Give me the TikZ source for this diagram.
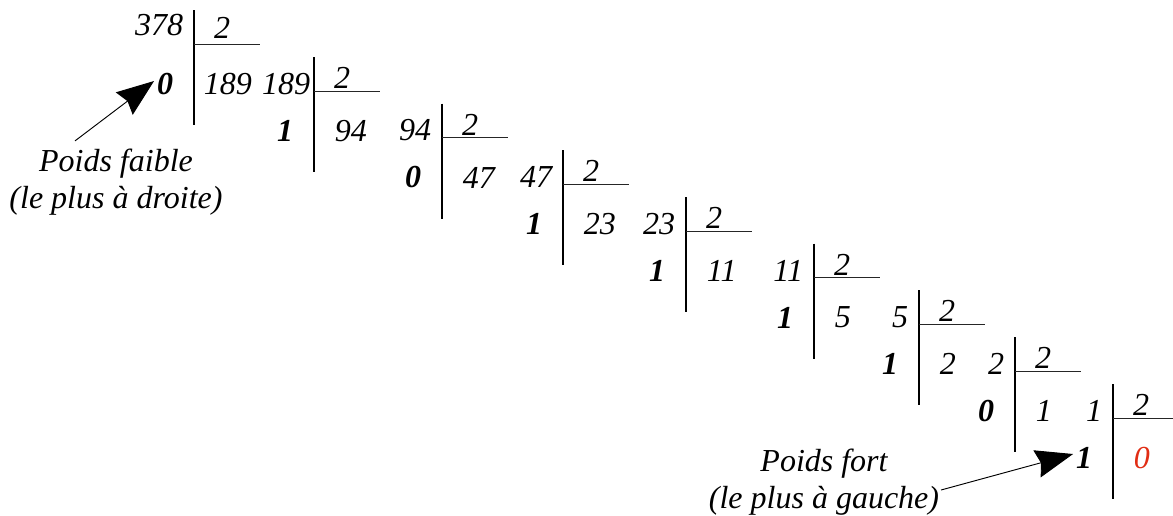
\documentclass[tikz,border=0pt]{standalone}
\usepackage{fontspec}
\setmainfont{Liberation Serif}
\usetikzlibrary{positioning,arrows.meta,calc}
\definecolor{qRed}{RGB}{225,45,20}
\tikzset{
  num/.style={font=\fontsize{24}{27.75}\selectfont\itshape, inner sep=2pt},
  bit/.style={num, font=\fontsize{24}{27.75}\selectfont\bfseries\itshape},
  note/.style={num, align=center, inner sep=2pt},
  bar/.style={draw=black, line width=0.9pt},
  rule/.style={draw=black!85, line width=0.75pt},
  ptr/.style={-{Stealth[length=28pt,width=21pt,inset=3pt]}, draw=black, line width=0.7pt},
}
% one division step : name, corner, dividend, quotient, remainder, dividend shift, quotient shift
\newcommand{\DivStep}[8][28,-13]{%
  \coordinate (#2) at (#3);
  \draw[bar] ($(#2)+(0,-34)$) -- ($(#2)+(0,81)$);
  \draw[rule] (#2) -- ($(#2)+(66,0)$);
  \node[num, anchor=east] (#2-num) at ($(#2)+(#7)$) {#4};
  \node[num] (#2-div) at ($(#2)+(#1)$) {2};
  \node[bit] (#2-rem) at ($(#2)+(-29,40)$) {#6};
  \node[num, anchor=west] (#2-quo) at ($(#2)+(#8)$) {#5};}

\begin{document}
\begin{tikzpicture}[x=0.75pt, y=-0.75pt]
  \useasboundingbox (0,0) rectangle (1173,515);

  % --- successive divisions by 2 ------------------------------------------
  \DivStep[28,-16]{b1}{194,44}{378}{189}{0}{-8,-19}{7,40}
  \DivStep{b2}{314,91}{189}{94}{1}{-1,-7}{18,40}
  \DivStep{b3}{442,137.5}{94}{47}{0}{-8,-7}{18,40}
  \DivStep{b4}{563,184}{47}{23}{1}{-8,-7}{18,40}
  \DivStep{b5}{686,231}{23}{11}{1}{-8,-7}{18,40}
  \DivStep{b6}{814,277.5}{11}{5}{1}{-8,-7}{18,40}
  \DivStep{b7}{919,324}{5}{2}{1}{-8,-7}{18,40}
  \DivStep{b8}{1015,371}{2}{1}{0}{-8,-7}{18,40}
  \DivStep{b9}{1113,418}{1}{\textcolor{qRed}{0}}{1}{-8,-7}{18,40}

  % --- notes on the bit weights -------------------------------------------
  \node[note] (lo) at (116,182) {Poids faible\\(le plus à droite)};
  \node[note] (hi) at (824,482) {Poids fort\\(le plus à gauche)};

  \draw[ptr] ($(lo.north)+(-41,-5)$) -- ($(b1-rem.west)+(0,-3)$);
  \draw[ptr] ($(hi.east)+(-1,8)$) -- ($(b9-rem.west)+(0,-4)$);
\end{tikzpicture}
\end{document}
